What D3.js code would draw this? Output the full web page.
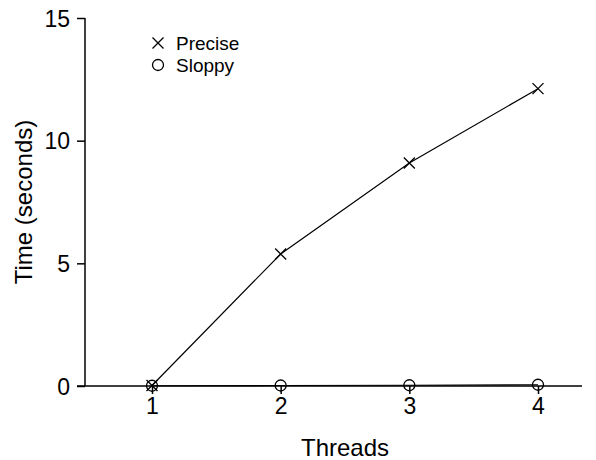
<!DOCTYPE html>
<html>
<head>
<meta charset="utf-8">
<script src="https://cdn.jsdelivr.net/npm/d3@7"></script>
<style>
  body { margin: 0; background: #fff; }
  text { font-family: "Liberation Sans", Arial, sans-serif; fill: #000; }
</style>
</head>
<body>
<div id="chart"></div>
<script>
var threads = [1, 2, 3, 4];
var precise = [0.02, 5.38, 9.09, 12.12];
var sloppy = [0.01, 0.02, 0.03, 0.05];
var yTicks = [0, 5, 10, 15];

var svgWidth = 596;
var svgHeight = 460;

var svg = d3.select("#chart")
    .append("svg")
    .attr("width", svgWidth)
    .attr("height", svgHeight);

var x = d3.scaleLinear().domain([1, 4]).range([152, 538]);
var y = d3.scaleLinear().domain([0, 15]).range([386, 18]);

// y axis
var leftAxis = d3.axisLeft(y).tickValues(yTicks).tickSize(8).tickPadding(7);
var gy = svg.append("g")
    .attr("transform", "translate(85,0)")
    .call(leftAxis);
gy.select(".domain").remove();
gy.append("line")
    .attr("x1", 0).attr("x2", 0)
    .attr("y1", y(15)).attr("y2", y(0))
    .attr("stroke", "#000").attr("stroke-width", 1.5);
gy.selectAll(".tick line").attr("stroke-width", 1.5);
gy.selectAll(".tick text").style("font-size", "23px").attr("dy", "0.36em");

// x axis
var bottomAxis = d3.axisBottom(x).tickValues(threads).tickSize(8).tickPadding(4).tickFormat(d3.format("d"));
var gx = svg.append("g")
    .attr("transform", "translate(0," + y(0) + ")")
    .call(bottomAxis);
gx.select(".domain").remove();
gx.selectAll(".tick line").attr("stroke-width", 1.5);
gx.selectAll(".tick text").style("font-size", "23px");

// zero line across the plot
svg.append("line")
    .attr("x1", 77).attr("x2", 582)
    .attr("y1", y(0)).attr("y2", y(0))
    .attr("stroke", "#000").attr("stroke-width", 1.5);

var line = d3.line()
    .x(function(d, i) { return x(threads[i]); })
    .y(function(d) { return y(d); });

svg.append("path")
    .datum(sloppy)
    .attr("d", line)
    .attr("fill", "none")
    .attr("stroke", "#000")
    .attr("stroke-width", 1.2);

svg.append("path")
    .datum(precise)
    .attr("d", line)
    .attr("fill", "none")
    .attr("stroke", "#000")
    .attr("stroke-width", 1.2);

function cross(g, cx, cy) {
    var s = 5.5;
    g.append("path")
        .attr("d", "M" + (cx - s) + "," + (cy - s) + "L" + (cx + s) + "," + (cy + s) +
                   "M" + (cx - s) + "," + (cy + s) + "L" + (cx + s) + "," + (cy - s))
        .attr("stroke", "#000")
        .attr("stroke-width", 1.3)
        .attr("fill", "none");
}

precise.forEach(function(d, i) {
    cross(svg, x(threads[i]), y(d));
});

svg.selectAll("circle.sloppy")
    .data(sloppy)
    .enter()
    .append("circle")
    .attr("class", "sloppy")
    .attr("cx", function(d, i) { return x(threads[i]); })
    .attr("cy", function(d) { return y(d); })
    .attr("r", 5.5)
    .attr("fill", "none")
    .attr("stroke", "#000")
    .attr("stroke-width", 1.3);

// legend
cross(svg, 158, 43);
svg.append("text").attr("x", 176).attr("y", 43).attr("dy", "0.35em")
    .style("font-size", "19px").text("Precise");
svg.append("circle").attr("cx", 158).attr("cy", 65).attr("r", 5.5)
    .attr("fill", "none").attr("stroke", "#000").attr("stroke-width", 1.3);
svg.append("text").attr("x", 176).attr("y", 65).attr("dy", "0.35em")
    .style("font-size", "19px").text("Sloppy");

// axis titles
svg.append("text")
    .attr("transform", "translate(32," + ((y(0) + y(15)) / 2) + ") rotate(-90)")
    .attr("text-anchor", "middle")
    .style("font-size", "24px")
    .text("Time (seconds)");

svg.append("text")
    .attr("x", 345)
    .attr("y", 456)
    .attr("text-anchor", "middle")
    .style("font-size", "24px")
    .text("Threads");
</script>
</body>
</html>
